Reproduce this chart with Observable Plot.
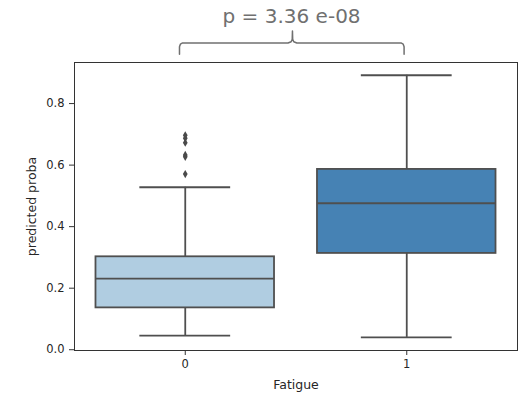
<!DOCTYPE html>
<html>
<head>
<meta charset="utf-8">
<script src="https://cdn.jsdelivr.net/npm/d3@7"></script>
<script src="https://cdn.jsdelivr.net/npm/@observablehq/plot@0.6"></script>
<style>
  html, body { margin: 0; padding: 0; background: #fff; }
  #chart svg { display: block; }
</style>
</head>
<body>
<div id="chart"></div>
<script>
// ---- data ----
const categories = [0, 1];
const whiskerLow = [0.046, 0.040];
const q1 = [0.136, 0.313];
const median = [0.231, 0.476];
const q3 = [0.302, 0.586];
const whiskerHigh = [0.528, 0.892];
const boxColors = ["#b0cde1", "#4682b4"];
const outliers0 = [0.697, 0.687, 0.673, 0.633, 0.627, 0.571];
const yTicks = [0.0, 0.2, 0.4, 0.6, 0.8];
const pLabel = "p = 3.36 e-08";
const xLabel = "Fatigue";
const yLabel = "predicted proba";

// ---- derived tables ----
const boxes = categories.map((c, i) => ({
  cat: c, lo: whiskerLow[i], q1: q1[i], med: median[i], q3: q3[i], hi: whiskerHigh[i], color: boxColors[i]
}));
const outlierPts = outliers0.map(v => ({cat: categories[0], v}));

// bracket annotation between the two groups
const bL = categories[0] - 0.026, bR = categories[1] - 0.012, bM = 0.484;
const bY = 0.997, bDrop = 0.96, bPeak = 1.036;
const brace = [
  [bL, bDrop], [bL, bY - 0.012], [bL + 0.004, bY - 0.004], [bL + 0.014, bY],
  [bM - 0.02, bY], [bM - 0.006, bY + 0.004], [bM - 0.001, bY + 0.012], [bM, bPeak],
  [bM + 0.001, bY + 0.012], [bM + 0.006, bY + 0.004], [bM + 0.02, bY],
  [bR - 0.014, bY], [bR - 0.004, bY - 0.004], [bR, bY - 0.012], [bR, bDrop]
];

const edge = "#4f4f4f";
const halfBox = 0.403, halfCap = 0.205;

const chart = Plot.plot({
  width: 523,
  height: 400,
  marginLeft: 74,
  marginRight: 6,
  marginTop: 62,
  marginBottom: 50,
  style: {fontFamily: "DejaVu Sans", background: "#fff", color: "#262626"},
  x: {type: "linear", domain: [-0.5, 1.5]},
  y: {domain: [-0.0025, 0.9335]},
  marks: [
    // whiskers
    Plot.ruleX(boxes, {x: "cat", y1: "lo", y2: "q1", stroke: edge, strokeWidth: 1.8}),
    Plot.ruleX(boxes, {x: "cat", y1: "q3", y2: "hi", stroke: edge, strokeWidth: 1.8}),
    // caps
    Plot.ruleY(boxes, {y: "lo", x1: d => d.cat - halfCap, x2: d => d.cat + halfCap, stroke: edge, strokeWidth: 1.8}),
    Plot.ruleY(boxes, {y: "hi", x1: d => d.cat - halfCap, x2: d => d.cat + halfCap, stroke: edge, strokeWidth: 1.8}),
    // boxes
    Plot.rect(boxes, {x1: d => d.cat - halfBox, x2: d => d.cat + halfBox, y1: "q1", y2: "q3", fill: "color", stroke: edge, strokeWidth: 1.8}),
    // medians
    Plot.ruleY(boxes, {y: "med", x1: d => d.cat - halfBox, x2: d => d.cat + halfBox, stroke: edge, strokeWidth: 1.8}),
    // outliers
    Plot.dot(outlierPts, {x: "cat", y: "v", symbol: "diamond", r: 2.5, fill: "#4a4a4a", stroke: "none"}),
    // frame
    Plot.frame({stroke: "#333", strokeWidth: 1}),
    // axes
    Plot.axisY({ticks: yTicks, tickFormat: d => d.toFixed(1), tickSize: 5, tickPadding: 5, fontSize: 11.5, label: null, stroke: "#333", color: "#262626"}),
    Plot.axisX({ticks: categories, tickFormat: d => String(d), tickSize: 5, tickPadding: 4, fontSize: 11.5, label: null, stroke: "#333", color: "#262626"}),
    Plot.text([yLabel], {frameAnchor: "left", text: d => d, rotate: -90, dx: -43, fontSize: 12.5, fill: "#262626", textAnchor: "middle", lineAnchor: "middle"}),
    Plot.text([xLabel], {frameAnchor: "bottom", text: d => d, dy: 34, fontSize: 12.5, fill: "#262626", textAnchor: "middle", lineAnchor: "middle"}),
    // bracket and p-value
    Plot.line(brace, {x: d => d[0], y: d => d[1], stroke: "#707070", strokeWidth: 1.5, clip: false}),
    Plot.text([pLabel], {x: bM - 0.004, y: 1.061, text: d => d, fontSize: 20, fill: "#707070", lineAnchor: "bottom", textAnchor: "middle"})
  ]
});
document.getElementById("chart").appendChild(chart);
</script>
</body>
</html>
